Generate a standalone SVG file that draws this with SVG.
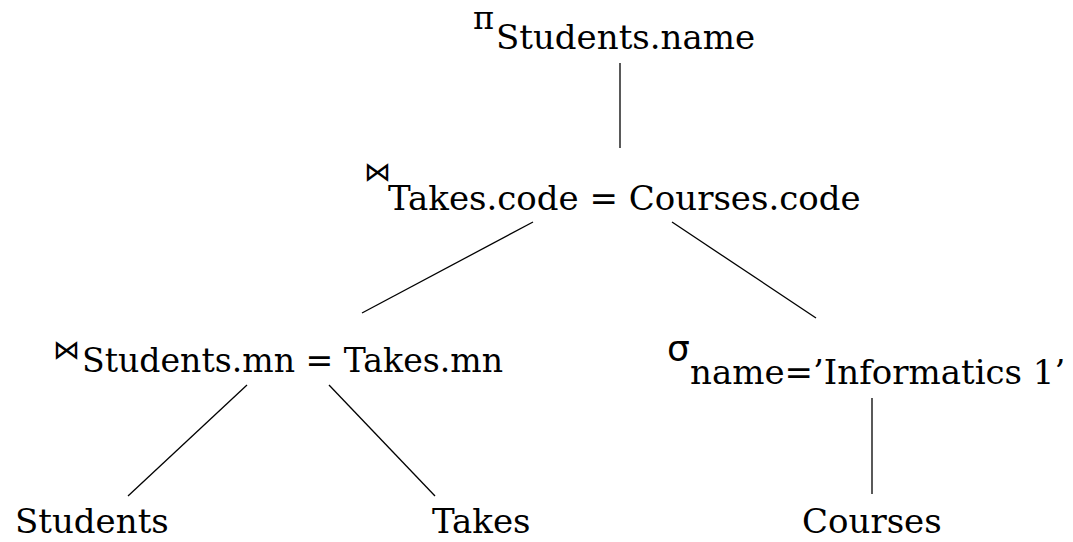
<svg xmlns="http://www.w3.org/2000/svg" width="1073" height="542" viewBox="0 0 1073 542">
<style>
.t{font-family:"DejaVu Serif","Liberation Serif",serif;font-size:34px;fill:#000}
.op{font-family:"DejaVu Sans","Noto Sans",sans-serif;fill:#000}
.pi{font-family:"DejaVu Serif","Liberation Serif",serif;font-size:32px;fill:#000}
.e line{stroke:#000;stroke-width:1.3}
</style>
<rect width="1073" height="542" fill="#fff"/>
<g class="e" id="connectors">
<line x1="620" y1="63" x2="620" y2="148"/>
<line x1="533" y1="222" x2="362" y2="313"/>
<line x1="672" y1="222" x2="816" y2="318"/>
<line x1="247" y1="385" x2="128" y2="496"/>
<line x1="329" y1="385" x2="435" y2="496"/>
<line x1="872" y1="398" x2="872" y2="494"/>
</g>
<g id="project">
<text class="pi" x="473" y="29">π</text>
<text class="t" x="496" y="49">Students.name</text>
</g>
<g id="join1">
<text class="op" x="364" y="181" font-size="27">⋈</text>
<text class="t" x="388" y="210">Takes.code = Courses.code</text>
</g>
<g id="join2">
<text class="op" x="53" y="359" font-size="27">⋈</text>
<text class="t" x="82" y="372" textLength="421" lengthAdjust="spacingAndGlyphs">Students.mn = Takes.mn</text>
</g>
<g id="select">
<text class="op" x="667" y="361" font-size="36">σ</text>
<text class="t" x="690" y="384">name=’Informatics 1’</text>
</g>
<g id="students"><text class="t" x="15" y="533">Students</text></g>
<g id="takes"><text class="t" x="432" y="533">Takes</text></g>
<g id="courses"><text class="t" x="802" y="533">Courses</text></g>
</svg>
